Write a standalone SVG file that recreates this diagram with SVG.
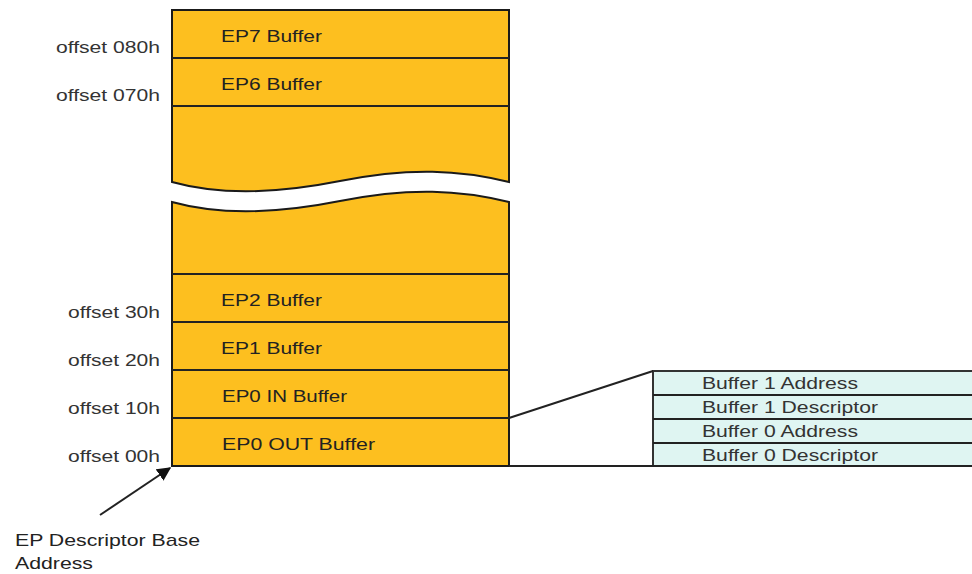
<svg xmlns="http://www.w3.org/2000/svg" width="972" height="574" viewBox="0 0 972 574">
  <defs>
    <style>
      .buf { fill: #fdbf1f; stroke: #1a1a1a; stroke-width: 2; }
      .desc { fill: #dff5f2; stroke: #333; stroke-width: 2; }
      .line { fill: none; stroke: #222; stroke-width: 2; }
      .lbl { font-family: "Liberation Sans", Arial, sans-serif; font-size: 17px; fill: #222; }
      .off { font-family: "Liberation Sans", Arial, sans-serif; font-size: 16px; fill: #333; text-anchor: end; }
      .dl { font-family: "Liberation Sans", Arial, sans-serif; font-size: 17px; fill: #333; }
    </style>
    <marker id="arrow" viewBox="0 0 10 10" refX="9" refY="5" markerWidth="7" markerHeight="7" orient="auto-start-reverse">
      <path d="M0,0 L10,5 L0,10 z" fill="#111"/>
    </marker>
  </defs>

  <!-- Endpoint buffer table, upper part -->
  <g id="upper-block">
    <path class="buf" d="M172,10 H509 V182 C460,170 410,167 340,181 C270,195 215,194 172,182 Z"/>
    <line class="line" x1="172" y1="58" x2="509" y2="58"/>
    <line class="line" x1="172" y1="106" x2="509" y2="106"/>
  </g>
  <g id="ep7"><text class="lbl" x="221" y="42" textLength="101" lengthAdjust="spacingAndGlyphs">EP7 Buffer</text></g>
  <g id="ep6"><text class="lbl" x="221" y="90" textLength="101" lengthAdjust="spacingAndGlyphs">EP6 Buffer</text></g>

  <!-- Endpoint buffer table, lower part -->
  <g id="lower-block">
    <path class="buf" d="M172,202 C215,214 270,215 340,201 C410,187 460,190 509,202 V466 H172 Z"/>
    <line class="line" x1="172" y1="274" x2="509" y2="274"/>
    <line class="line" x1="172" y1="322" x2="509" y2="322"/>
    <line class="line" x1="172" y1="370" x2="509" y2="370"/>
    <line class="line" x1="172" y1="418" x2="509" y2="418"/>
  </g>
  <g id="ep2"><text class="lbl" x="221" y="306" textLength="101" lengthAdjust="spacingAndGlyphs">EP2 Buffer</text></g>
  <g id="ep1"><text class="lbl" x="221" y="354" textLength="101" lengthAdjust="spacingAndGlyphs">EP1 Buffer</text></g>
  <g id="ep0-in"><text class="lbl" x="222" y="402" textLength="125" lengthAdjust="spacingAndGlyphs">EP0 IN Buffer</text></g>
  <g id="ep0-out"><text class="lbl" x="222" y="450" textLength="153" lengthAdjust="spacingAndGlyphs">EP0 OUT Buffer</text></g>

  <!-- Offsets -->
  <g id="offsets">
    <text class="off" x="160" y="53" textLength="104" lengthAdjust="spacingAndGlyphs">offset 080h</text>
    <text class="off" x="160" y="101" textLength="104" lengthAdjust="spacingAndGlyphs">offset 070h</text>
    <text class="off" x="160" y="318" textLength="92" lengthAdjust="spacingAndGlyphs">offset 30h</text>
    <text class="off" x="160" y="366" textLength="92" lengthAdjust="spacingAndGlyphs">offset 20h</text>
    <text class="off" x="160" y="414" textLength="92" lengthAdjust="spacingAndGlyphs">offset 10h</text>
    <text class="off" x="160" y="462" textLength="92" lengthAdjust="spacingAndGlyphs">offset 00h</text>
  </g>

  <!-- Descriptor detail -->
  <g id="descriptor">
    <rect class="desc" x="653" y="371" width="330" height="95"/>
    <line class="line" x1="653" y1="395" x2="972" y2="395"/>
    <line class="line" x1="653" y1="419" x2="972" y2="419"/>
    <line class="line" x1="653" y1="443" x2="972" y2="443"/>
    <text class="dl" x="702" y="389" textLength="156" lengthAdjust="spacingAndGlyphs">Buffer 1 Address</text>
    <text class="dl" x="702" y="413" textLength="176" lengthAdjust="spacingAndGlyphs">Buffer 1 Descriptor</text>
    <text class="dl" x="702" y="437" textLength="156" lengthAdjust="spacingAndGlyphs">Buffer 0 Address</text>
    <text class="dl" x="702" y="461" textLength="176" lengthAdjust="spacingAndGlyphs">Buffer 0 Descriptor</text>
  </g>

  <!-- Connectors -->
  <g id="connectors">
    <line class="line" x1="509" y1="466" x2="972" y2="466"/>
    <line class="line" x1="509" y1="418" x2="653" y2="371"/>
    <line class="line" x1="100" y1="515" x2="170" y2="468" marker-end="url(#arrow)"/>
  </g>

  <g id="base-label">
    <text class="lbl" x="15" y="546" textLength="185" lengthAdjust="spacingAndGlyphs">EP Descriptor Base</text>
    <text class="lbl" x="15" y="569" textLength="78" lengthAdjust="spacingAndGlyphs">Address</text>
  </g>
</svg>
